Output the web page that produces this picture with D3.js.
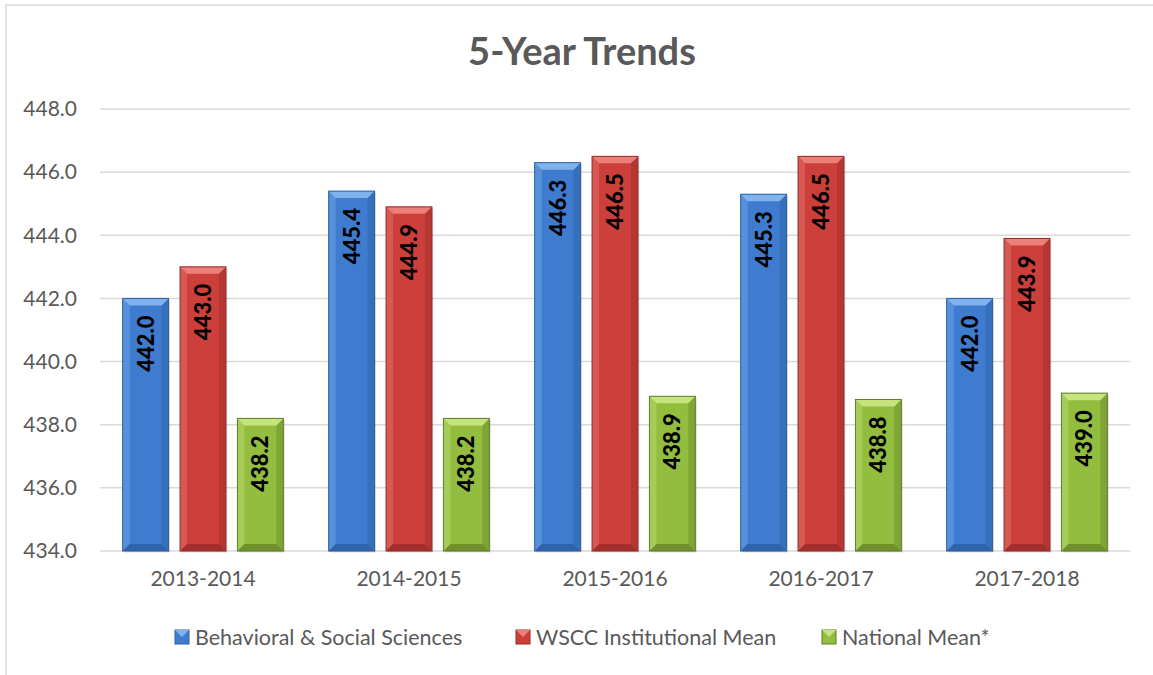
<!DOCTYPE html>
<html>
<head>
<meta charset="utf-8">
<script src="https://cdn.jsdelivr.net/npm/d3@7"></script>
<style>
  body { margin: 0; background: #fff; }
  text { font-family: Lato, "Noto Sans", sans-serif; }
</style>
</head>
<body>
<div id="chart"></div>
<script>
var years = ["2013-2014", "2014-2015", "2015-2016", "2016-2017", "2017-2018"]
var seriesNames = ["Behavioral & Social Sciences", "WSCC Institutional Mean", "National Mean*"]
var behavioral = [442.0, 445.4, 446.3, 445.3, 442.0]
var wscc = [443.0, 444.9, 446.5, 446.5, 443.9]
var national = [438.2, 438.2, 438.9, 438.8, 439.0]
var yTicks = [434, 436, 438, 440, 442, 444, 446, 448]

// face, light bevel, dark bevel, outline
var palette = [
  {face: "#3f7ccf", light: "#80b2ee", dark: "#2a5c9e", line: "#2e5f9f"},
  {face: "#cc3f3a", light: "#ec7f7a", dark: "#962a27", line: "#8f2d2a"},
  {face: "#92bd3e", light: "#c6e47e", dark: "#62832a", line: "#5f7d2b"}
]

var width = 1153, height = 675
var margin = {left: 100, right: 23, top: 109, bottom: 124}

var svg = d3.select("#chart").append("svg")
    .attr("width", width)
    .attr("height", height)

// chart area border
svg.append("path")
    .attr("d", "M6,675 L6,5 L1153,5")
    .attr("fill", "none")
    .attr("stroke", "#d9d9d9")
    .attr("stroke-width", 1.5)

svg.append("text")
    .attr("x", 582)
    .attr("y", 65)
    .attr("text-anchor", "middle")
    .attr("font-size", 38)
    .attr("font-weight", "bold")
    .attr("fill", "#595959")
    .text("5-Year Trends")

var y = d3.scaleLinear().domain([434, 448]).range([height - margin.bottom, margin.top])

var x0 = d3.scaleBand().domain(years)
    .range([margin.left, width - margin.right])
    .paddingInner(0.22).paddingOuter(0.11)

var x1 = d3.scaleBand().domain(d3.range(3))
    .range([0, x0.bandwidth()])
    .paddingInner(0.2)

// gridlines
svg.append("g").selectAll("line")
    .data(yTicks)
    .enter().append("line")
    .attr("x1", margin.left)
    .attr("x2", width - margin.right)
    .attr("y1", d => y(d))
    .attr("y2", d => y(d))
    .attr("stroke", "#d9d9d9")
    .attr("stroke-width", 1.5)

var yAxis = d3.axisLeft(y).tickValues(yTicks).tickFormat(d3.format(".1f")).tickSize(0).tickPadding(0)
var gy = svg.append("g").attr("transform", "translate(77,0)").call(yAxis)
gy.select(".domain").remove()
gy.selectAll("text")
    .attr("font-size", 21)
    .attr("fill", "#595959")
    .attr("font-family", "Lato, 'Noto Sans', sans-serif")

var xAxis = d3.axisBottom(x0).tickSize(0).tickPadding(0)
var gx = svg.append("g").attr("transform", "translate(0," + (y(434) + 20) + ")").call(xAxis)
gx.select(".domain").remove()
gx.selectAll("text")
    .attr("font-size", 21)
    .attr("fill", "#595959")
    .attr("font-family", "Lato, 'Noto Sans', sans-serif")

var rows = []
years.forEach(function(yr, i) {
  [behavioral, wscc, national].forEach(function(s, k) {
    rows.push({year: yr, k: k, value: s[i]})
  })
})

var bev = 7
var bars = svg.append("g").selectAll("g.bar")
    .data(rows)
    .enter().append("g")
    .attr("class", "bar")
    .attr("transform", d => "translate(" + (x0(d.year) + x1(d.k)) + ",0)")

bars.each(function(d) {
  var g = d3.select(this)
  var w = x1.bandwidth()
  var t = y(d.value), b = y(434)
  var c = palette[d.k]
  // shadow
  g.append("rect").attr("x", 1.5).attr("y", t + 1.5).attr("width", w).attr("height", b - t)
    .attr("fill", "#000").attr("opacity", 0.12)
  g.append("rect").attr("x", 0).attr("y", t).attr("width", w).attr("height", b - t)
    .attr("fill", c.face)
  // left side
  g.append("path").attr("d", "M0," + t + " L" + bev + "," + (t + bev) + " L" + bev + "," + (b - bev) + " L0," + b + "Z")
    .attr("fill", c.light).attr("opacity", 0.4)
  // right side
  g.append("path").attr("d", "M" + w + "," + t + " L" + (w - bev) + "," + (t + bev) + " L" + (w - bev) + "," + (b - bev) + " L" + w + "," + b + "Z")
    .attr("fill", c.dark).attr("opacity", 0.4)
  // top
  g.append("path").attr("d", "M0," + t + " L" + w + "," + t + " L" + (w - bev) + "," + (t + bev) + " L" + bev + "," + (t + bev) + "Z")
    .attr("fill", c.light)
  // bottom
  g.append("path").attr("d", "M0," + b + " L" + w + "," + b + " L" + (w - bev) + "," + (b - bev) + " L" + bev + "," + (b - bev) + "Z")
    .attr("fill", c.dark).attr("opacity", 0.75)
  g.append("rect").attr("x", 0).attr("y", t).attr("width", w).attr("height", b - t)
    .attr("fill", "none").attr("stroke", c.line).attr("stroke-width", 1)
  g.append("text")
    .attr("transform", "translate(" + (w / 2 + 8) + "," + (t + 17) + ") rotate(-90)")
    .attr("text-anchor", "end")
    .attr("font-size", 22)
    .attr("font-weight", 900)
    .attr("fill", "#000")
    .text(d3.format(".1f")(d.value))
})

// legend
var legendX = [175, 516, 822]
var legend = svg.append("g").selectAll("g")
    .data(seriesNames)
    .enter().append("g")
    .attr("transform", (d, i) => "translate(" + legendX[i] + ",630)")

legend.append("rect").attr("width", 14).attr("height", 14)
    .attr("fill", (d, i) => palette[i].face).attr("stroke", (d, i) => palette[i].line)
legend.append("path").attr("d", "M0,0 L14,0 L7,7Z").attr("fill", (d, i) => palette[i].light)
legend.append("text")
    .attr("x", 20).attr("y", 15)
    .attr("font-size", 21.5)
    .attr("fill", "#595959")
    .text(d => d)
</script>
</body>
</html>
